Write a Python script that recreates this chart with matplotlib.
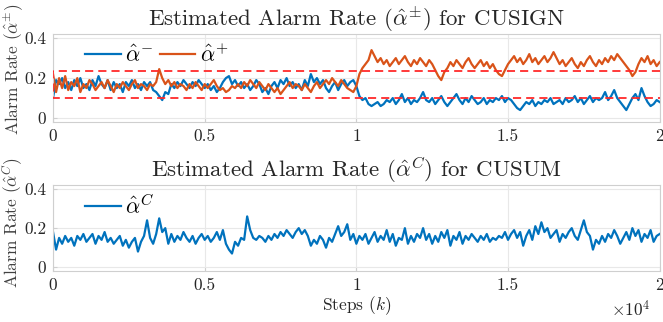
#!/usr/bin/env python3
"""
Estimated alarm rates for CUSIGN (alpha^-/alpha^+) and CUSUM (alpha^C).
"""

import numpy as np
import matplotlib
matplotlib.use("Agg")
import matplotlib.pyplot as plt
from matplotlib.ticker import FuncFormatter

plt.rcParams['font.family'] = 'serif'
plt.rcParams['font.serif'] = ['cmr10']
plt.rcParams['mathtext.fontset'] = 'cm'
plt.rcParams['axes.formatter.use_mathtext'] = True

# values, one every 100 steps (0 .. 20000)
alpha_minus = [
    0.10, 0.19, 0.17, 0.20, 0.15, 0.18, 0.14, 0.19, 0.16, 0.20, 0.15,
    0.17, 0.14, 0.19, 0.16, 0.21, 0.17, 0.15, 0.19, 0.14, 0.18,
    0.15, 0.17, 0.13, 0.18, 0.16, 0.19, 0.15, 0.17, 0.14, 0.18,
    0.16, 0.18, 0.14, 0.13, 0.11, 0.09, 0.13, 0.12, 0.17, 0.15,
    0.18, 0.16, 0.19, 0.17, 0.15, 0.18, 0.16, 0.19, 0.17, 0.15,
    0.17, 0.14, 0.16, 0.13, 0.15, 0.18, 0.20, 0.21, 0.17, 0.19,
    0.16, 0.18, 0.15, 0.17, 0.14, 0.16, 0.19, 0.17, 0.13, 0.15,
    0.12, 0.16, 0.18, 0.15, 0.19, 0.17, 0.20, 0.16, 0.18, 0.15,
    0.17, 0.14, 0.19, 0.16, 0.22, 0.18, 0.20, 0.17, 0.19, 0.15,
    0.13, 0.16, 0.18, 0.14, 0.17, 0.19, 0.16, 0.18, 0.19, 0.16,
    0.11, 0.09, 0.10, 0.07, 0.06, 0.07, 0.08, 0.06, 0.07, 0.09,
    0.08, 0.10, 0.07, 0.09, 0.12, 0.08, 0.10, 0.07, 0.09, 0.08,
    0.10, 0.13, 0.09, 0.08, 0.10, 0.07, 0.09, 0.11, 0.08, 0.06,
    0.08, 0.10, 0.12, 0.09, 0.07, 0.10, 0.08, 0.11, 0.09, 0.07,
    0.08, 0.10, 0.07, 0.09, 0.08, 0.10, 0.09, 0.11, 0.08, 0.10,
    0.09, 0.07, 0.05, 0.04, 0.06, 0.08, 0.07, 0.09, 0.06, 0.08,
    0.07, 0.09, 0.08, 0.10, 0.07, 0.08, 0.09, 0.07, 0.10, 0.08,
    0.09, 0.11, 0.08, 0.10, 0.07, 0.09, 0.11, 0.08, 0.10, 0.09,
    0.10, 0.13, 0.09, 0.11, 0.14, 0.10, 0.08, 0.06, 0.04, 0.07,
    0.10, 0.12, 0.09, 0.15, 0.11, 0.08, 0.06, 0.07, 0.09, 0.08,
]

alpha_plus = [
    0.22, 0.13, 0.20, 0.15, 0.21, 0.14, 0.18, 0.16, 0.20, 0.13, 0.17,
    0.15, 0.19, 0.17, 0.14, 0.16, 0.18, 0.15, 0.19, 0.16, 0.13,
    0.17, 0.15, 0.18, 0.16, 0.14, 0.17, 0.19, 0.15, 0.17, 0.16,
    0.14, 0.17, 0.16, 0.18, 0.245, 0.20, 0.17, 0.19, 0.16, 0.18,
    0.15, 0.17, 0.16, 0.14, 0.17, 0.15, 0.18, 0.16, 0.14, 0.17,
    0.15, 0.17, 0.19, 0.16, 0.14, 0.15, 0.13, 0.14, 0.16, 0.15,
    0.17, 0.15, 0.18, 0.16, 0.19, 0.17, 0.15, 0.18, 0.16, 0.14,
    0.17, 0.15, 0.13, 0.15, 0.12, 0.14, 0.16, 0.18, 0.15, 0.17,
    0.16, 0.14, 0.17, 0.15, 0.13, 0.16, 0.18, 0.15, 0.17, 0.19,
    0.17, 0.20, 0.18, 0.16, 0.19, 0.17, 0.15, 0.14, 0.13, 0.16,
    0.22, 0.25, 0.27, 0.29, 0.34, 0.31, 0.28, 0.30, 0.27, 0.29,
    0.26, 0.28, 0.30, 0.27, 0.29, 0.31, 0.28, 0.26, 0.29, 0.27,
    0.30, 0.28, 0.26, 0.29, 0.27, 0.24, 0.21, 0.19, 0.23, 0.25,
    0.28, 0.26, 0.29, 0.27, 0.25, 0.28, 0.30, 0.27, 0.25, 0.27,
    0.29, 0.26, 0.28, 0.25, 0.27, 0.24, 0.22, 0.21, 0.24, 0.27,
    0.29, 0.31, 0.28, 0.30, 0.27, 0.29, 0.32, 0.28, 0.30, 0.27,
    0.29, 0.31, 0.28, 0.30, 0.33, 0.30, 0.27, 0.29, 0.26, 0.28,
    0.30, 0.27, 0.25, 0.28, 0.26, 0.29, 0.31, 0.28, 0.26, 0.29,
    0.27, 0.30, 0.28, 0.31, 0.29, 0.32, 0.30, 0.28, 0.26, 0.24,
    0.21, 0.23, 0.27, 0.30, 0.28, 0.31, 0.27, 0.29, 0.26, 0.28,
]

alpha_cusum = [
    0.18, 0.09, 0.15, 0.12, 0.16, 0.13, 0.15, 0.11, 0.16, 0.14, 0.17,
    0.13, 0.15, 0.17, 0.12, 0.16, 0.14, 0.18, 0.13, 0.15, 0.12,
    0.14, 0.16, 0.11, 0.14, 0.10, 0.13, 0.15, 0.08, 0.13, 0.16,
    0.24, 0.15, 0.12, 0.17, 0.25, 0.18, 0.20, 0.12, 0.17, 0.13,
    0.16, 0.14, 0.18, 0.15, 0.13, 0.16, 0.12, 0.15, 0.17, 0.14,
    0.16, 0.13, 0.15, 0.18, 0.14, 0.19, 0.12, 0.09, 0.07, 0.13,
    0.11, 0.15, 0.14, 0.26, 0.19, 0.15, 0.14, 0.16, 0.15, 0.13,
    0.16, 0.14, 0.17, 0.15, 0.18, 0.16, 0.19, 0.17, 0.15, 0.18,
    0.20, 0.17, 0.19, 0.16, 0.11, 0.14, 0.12, 0.16, 0.14, 0.10,
    0.15, 0.13, 0.17, 0.21, 0.16, 0.18, 0.22, 0.14, 0.17, 0.12,
    0.16, 0.14, 0.17, 0.12, 0.15, 0.18, 0.13, 0.16, 0.14, 0.19,
    0.13, 0.17, 0.11, 0.15, 0.14, 0.20, 0.12, 0.16, 0.13, 0.17,
    0.15, 0.20, 0.14, 0.17, 0.12, 0.16, 0.13, 0.18, 0.15, 0.19,
    0.11, 0.16, 0.14, 0.18, 0.12, 0.16, 0.14, 0.17, 0.15, 0.13,
    0.16, 0.14, 0.17, 0.13, 0.15, 0.14, 0.16, 0.15, 0.18, 0.14,
    0.17, 0.19, 0.15, 0.18, 0.11, 0.16, 0.19, 0.14, 0.21, 0.17,
    0.23, 0.18, 0.20, 0.15, 0.17, 0.19, 0.13, 0.17, 0.15, 0.18,
    0.20, 0.16, 0.14, 0.19, 0.24, 0.18, 0.16, 0.09, 0.14, 0.12,
    0.16, 0.13, 0.17, 0.15, 0.19, 0.16, 0.12, 0.15, 0.18, 0.14,
    0.20, 0.16, 0.19, 0.13, 0.17, 0.15, 0.19, 0.13, 0.16, 0.17,
]

step_size = 100
band_low, band_high = 0.1, 0.235
x_max = 20000
x_ticks = [0, 5000, 10000, 15000, 20000]

blue = '#0072BD'
orange = '#D95319'
frame_gray = '#cfcfcf'
text_color = '#262626'


def style_axes(ax):
    ax.set_xlim(0, x_max)
    ax.set_ylim(-0.02, 0.42)
    ax.set_yticks([0, 0.2, 0.4])
    ax.set_yticklabels(['0', '0.2', '0.4'])
    ax.set_xticks(x_ticks)
    ax.xaxis.set_major_formatter(FuncFormatter(lambda v, p: f'{v / 1e4:g}'))
    ax.grid(True, color='#e8e8e8', linewidth=0.8)
    ax.set_axisbelow(True)
    for sp in ax.spines.values():
        sp.set_color(frame_gray)
        sp.set_linewidth(0.8)
    ax.tick_params(direction='in', length=3, color=frame_gray, labelsize=12.5,
                   labelcolor=text_color, pad=5)


fig = plt.figure(figsize=(6.63, 3.22), dpi=100)
ax1 = fig.add_axes([0.080, 0.621, 0.915, 0.273])
ax2 = fig.add_axes([0.080, 0.158, 0.915, 0.267])

steps = np.arange(len(alpha_minus)) * step_size
ax1.plot(steps, alpha_minus, color=blue, linewidth=1.6, label=r'$\hat{\alpha}^{-}$')
ax1.plot(steps, alpha_plus, color=orange, linewidth=1.6, label=r'$\hat{\alpha}^{+}$')
ax1.plot([x_max, 0, 0, x_max], [band_high, band_high, band_low, band_low],
         color='#ff2a2a', linewidth=1.3, dashes=(4.5, 2.8), zorder=5)
style_axes(ax1)
ax1.set_title(r'Estimated Alarm Rate ($\hat{\alpha}^{\pm}$) for CUSIGN',
              fontsize=16.5, color=text_color, pad=6)
ax1.set_ylabel(r'Alarm Rate ($\hat{\alpha}^{\pm}$)', fontsize=12.5, color='#404040')
ax1.yaxis.set_label_coords(-0.047, 0.60)
ax1.legend(loc='upper left', bbox_to_anchor=(0.02, 1.12), ncol=2, frameon=False,
           fontsize=16, handlelength=1.6, handletextpad=0.2, columnspacing=0.3)

steps_c = np.arange(len(alpha_cusum)) * step_size
ax2.plot(steps_c, alpha_cusum, color=blue, linewidth=1.6, label=r'$\hat{\alpha}^{C}$')
style_axes(ax2)
ax2.set_title(r'Estimated Alarm Rate ($\hat{\alpha}^{C}$) for CUSUM',
              fontsize=16.5, color=text_color, pad=4)
ax2.set_ylabel(r'Alarm Rate ($\hat{\alpha}^{C}$)', fontsize=12.5, color='#404040')
ax2.yaxis.set_label_coords(-0.047, 0.56)
ax2.set_xlabel(r'Steps ($k$)', fontsize=12.5, color=text_color)
ax2.xaxis.set_label_coords(0.5, -0.27)
ax2.text(0.985, -0.33, r'$\times10^{4}$', transform=ax2.transAxes,
         ha='right', va='top', fontsize=12.5, color=text_color)
ax2.legend(loc='upper left', bbox_to_anchor=(0.02, 1.12), frameon=False,
           fontsize=16, handlelength=1.6, handletextpad=0.2)

fig.savefig('out.png', dpi=100)
